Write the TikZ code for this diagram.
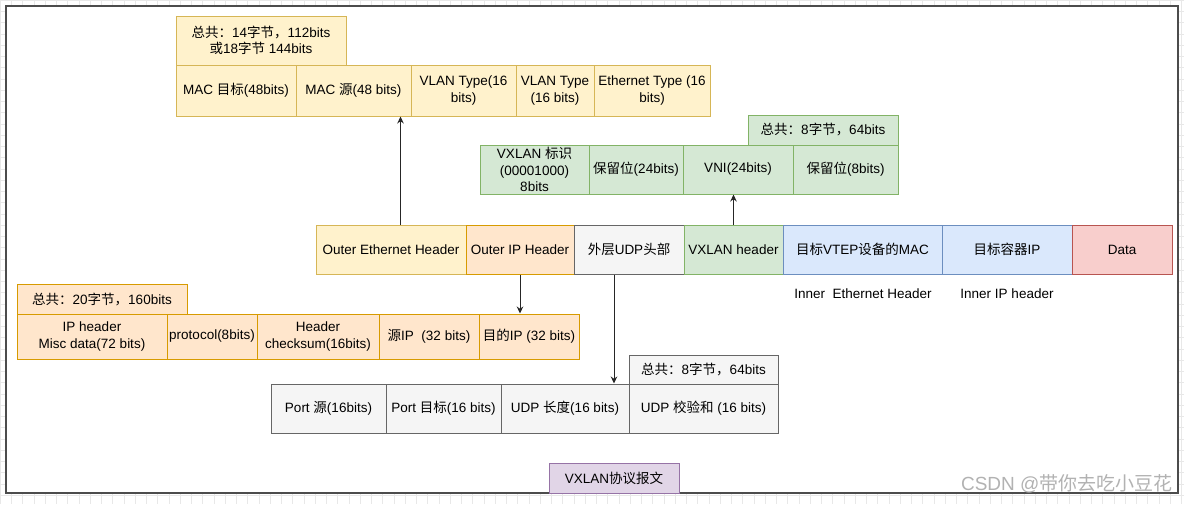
\documentclass[tikz,border=0pt]{standalone}
\usepackage{fontspec}
\setmainfont{Liberation Sans}
\newfontfamily\zh{Noto Sans CJK SC}
\usetikzlibrary{arrows.meta}
\definecolor{ethfill}{HTML}{FFF2CC}
\definecolor{ethline}{HTML}{D6B656}
\definecolor{ipfill}{HTML}{FFE6CC}
\definecolor{ipline}{HTML}{D79B00}
\definecolor{udpfill}{HTML}{F5F5F5}
\definecolor{udpline}{HTML}{666666}
\definecolor{vxfill}{HTML}{D5E8D4}
\definecolor{vxline}{HTML}{82B366}
\definecolor{innerfill}{HTML}{DAE8FC}
\definecolor{innerline}{HTML}{6C8EBF}
\definecolor{datafill}{HTML}{F8CECC}
\definecolor{dataline}{HTML}{B85450}
\definecolor{msgfill}{HTML}{E1D5E7}
\definecolor{msgline}{HTML}{9673A6}
% style, name, x1, y1, x2, y2, text
\newcommand{\hdrcell}[7]{\node[#1, minimum width={(#5-#3)*1pt}, minimum height={(#6-#4)*1pt}] (#2) at ({(#3+#5)/2},{(#4+#6)/2}) {#7};}

\begin{document}
\begin{tikzpicture}[x=1pt, y=-1pt,
    every node/.style={font=\fontsize{13.5}{16.5}\selectfont},
    fieldbox/.style={draw, line width=1pt, inner sep=0pt, align=center},
    eth/.style={fieldbox, fill=ethfill, draw=ethline},
    ipf/.style={fieldbox, fill=ipfill, draw=ipline},
    udpf/.style={fieldbox, fill=udpfill, draw=udpline},
    vxf/.style={fieldbox, fill=vxfill, draw=vxline},
    innerf/.style={fieldbox, fill=innerfill, draw=innerline},
    dataf/.style={fieldbox, fill=datafill, draw=dataline},
    msgf/.style={fieldbox, fill=msgfill, draw=msgline},
    link/.style={draw=black!85, line width=1pt, -{Stealth[length=7pt, width=6.5pt]}}]
    \useasboundingbox (0,0) rectangle (1184,504);
    % canvas
    \draw[black!9, step=11.25pt] (0,0) grid (1184,504);
    \draw[fill=white, draw=black!70, line width=1.5pt] (6,6) rectangle (1178,493);

    % outer ethernet header
    \hdrcell{eth}{ethsum}{176}{16}{346}{65}{{\zh 总共：}14{\zh 字节，}112bits\\{\zh 或}18{\zh 字节} 144bits}
    \hdrcell{eth}{macdst}{176}{65}{296}{116}{MAC {\zh 目标}(48bits)}
    \hdrcell{eth}{macsrc}{296}{65}{411}{116}{MAC {\zh 源}(48 bits)}
    \hdrcell{eth}{vlana}{411}{65}{516}{116}{VLAN Type(16\\bits)}
    \hdrcell{eth}{vlanb}{516}{65}{594}{116}{VLAN Type\\(16 bits)}
    \hdrcell{eth}{ethtype}{594}{65}{710}{116}{Ethernet Type (16\\bits)}

    % vxlan header
    \hdrcell{vxf}{vxsum}{748}{115}{898}{145}{{\zh 总共：}8{\zh 字节，}64bits}
    \hdrcell{vxf}{vxflag}{480}{145}{589}{194}{VXLAN {\zh 标识}\\(00001000)\\8bits}
    \hdrcell{vxf}{rsva}{589}{145}{683}{194}{{\zh 保留位}(24bits)}
    \hdrcell{vxf}{vni}{683}{145}{793}{194}{VNI(24bits)}
    \hdrcell{vxf}{rsvb}{793}{145}{898}{194}{{\zh 保留位}(8bits)}

    % packet
    \hdrcell{eth}{oeth}{316}{225}{466}{274}{Outer Ethernet Header}
    \hdrcell{ipf}{oip}{466}{225}{574}{274}{Outer IP Header}
    \hdrcell{udpf}{udphdr}{574}{225}{684}{274}{{\zh 外层}UDP{\zh 头部}}
    \hdrcell{vxf}{vxhdr}{684}{225}{783}{274}{VXLAN header}
    \hdrcell{innerf}{innermac}{783}{225}{942}{274}{{\zh 目标}VTEP{\zh 设备的}MAC}
    \hdrcell{innerf}{innerip}{942}{225}{1072}{274}{{\zh 目标容器}IP}
    \hdrcell{dataf}{data}{1072}{225}{1172}{274}{Data}
    \node (innerethlbl) at (863,294) {Inner\ \ Ethernet Header};
    \node (inneriplbl) at (1007,294) {Inner IP header};

    % outer ip header
    \hdrcell{ipf}{ipsum}{17}{284}{187}{314}{{\zh 总共：}20{\zh 字节，}160bits}
    \hdrcell{ipf}{ipmisc}{17}{314}{167}{359}{IP header\\Misc data(72 bits)}
    \hdrcell{ipf}{proto}{167}{314}{257}{359}{protocol(8bits)}
    \hdrcell{ipf}{chksum}{257}{314}{379}{359}{Header\\checksum(16bits)}
    \hdrcell{ipf}{srcip}{379}{314}{479}{359}{{\zh 源}IP\ \ (32 bits)}
    \hdrcell{ipf}{dstip}{479}{314}{579}{359}{{\zh 目的}IP (32 bits)}

    % outer udp header
    \hdrcell{udpf}{udpsum}{629}{355}{778}{384}{{\zh 总共：}8{\zh 字节，}64bits}
    \hdrcell{udpf}{srcport}{271}{384}{386}{433}{Port {\zh 源}(16bits)}
    \hdrcell{udpf}{dstport}{386}{384}{501}{433}{Port {\zh 目标}(16 bits)}
    \hdrcell{udpf}{udplen}{501}{384}{629}{433}{UDP {\zh 长度}(16 bits)}
    \hdrcell{udpf}{udpck}{629}{384}{778}{433}{UDP {\zh 校验和} (16 bits)}

    \hdrcell{msgf}{msg}{549}{463}{679}{493}{VXLAN{\zh 协议报文}}

    % connectors
    \coordinate (ethup) at (400.5,0);
    \coordinate (udpdown) at (614,0);
    \draw[link] (oeth.north -| ethup) -- (macsrc.south -| ethup);
    \draw[link] (vxhdr.north) -- (vni.south -| vxhdr);
    \draw[link] (oip.south) -- (dstip.north -| oip);
    \draw[link] (udphdr.south -| udpdown) -- (udplen.north -| udpdown);

    \node[text=black!30, font=\fontsize{19}{21}\selectfont, anchor=south east] (wm) at (1176,497) {CSDN @{\zh 带你去吃小豆花}};
\end{tikzpicture}
\end{document}
